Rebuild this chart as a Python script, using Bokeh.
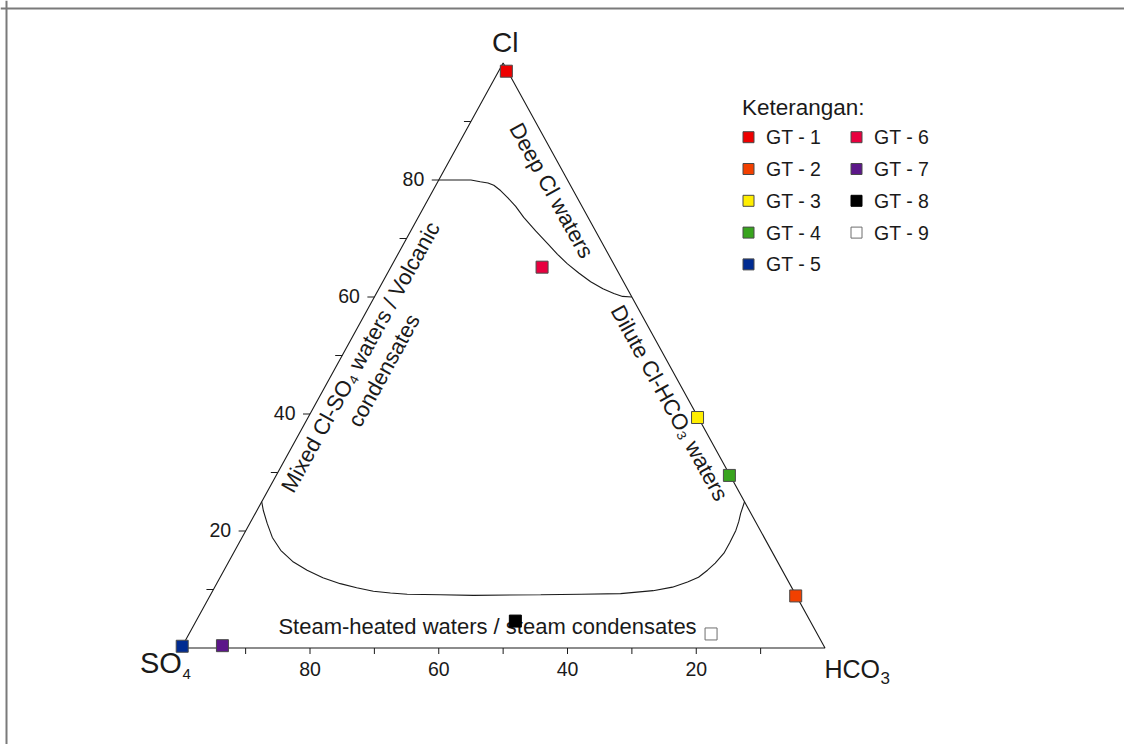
import math
from bokeh.plotting import figure
from bokeh.models import ColumnDataSource, Range1d, Span
from bokeh.core.properties import value
from bokeh.embed import file_html
from bokeh.resources import INLINE

# ---------------- data ----------------
samples = ["GT - 1", "GT - 2", "GT - 3", "GT - 4", "GT - 5",
           "GT - 6", "GT - 7", "GT - 8", "GT - 9"]
cl = [98.6, 8.9, 39.4, 29.5, 0.3, 65.1, 0.4, 4.6, 2.4]
hco3 = [1.2, 91.0, 60.5, 70.4, 0.0, 23.5, 6.2, 49.6, 81.1]
so4 = [0.2, 0.1, 0.1, 0.1, 99.7, 11.4, 93.4, 45.8, 16.5]
colors = ["#ee0000", "#f24000", "#ffee00", "#38a41e", "#002b91",
          "#e8003f", "#5c1789", "#000000", "#ffffff"]
edge_colors = ["#4a4a4a"] * 7 + ["#000000", "#6e6e6e"]

# field boundaries (Cl %, HCO3 %; SO4 = rest)
top_cl = [80.0, 80.0, 80.0, 79.7, 79.5, 79.1, 78.2, 77.0, 75.5, 73.6,
          71.3, 69.1, 67.3, 65.7, 64.1, 62.6, 61.4, 60.6, 60.1, 60.0]
top_hco3 = [0.0, 2.6, 5.0, 6.6, 7.9, 9.0, 10.5, 12.2, 14.2, 16.4,
            19.4, 22.4, 24.8, 27.1, 29.7, 32.3, 34.8, 36.9, 38.5, 40.0]
bot_cl = [25.0, 23.5, 21.3, 18.9, 16.7, 14.8, 13.3, 12.0, 11.0, 10.3,
          9.7, 9.4, 9.2, 9.1, 9.0, 9.1, 9.2, 9.3, 9.8, 10.4,
          11.3, 12.1, 13.3, 14.5, 16.2, 18.0, 20.1, 21.6, 23.0, 25.0]
bot_hco3 = [0.0, 1.0, 2.7, 4.7, 7.1, 9.9, 12.9, 16.0, 19.2, 22.1,
            25.0, 27.8, 30.5, 35.7, 40.9, 51.3, 57.5, 63.6, 68.4, 71.1,
            73.0, 74.3, 75.1, 75.7, 76.2, 76.2, 76.1, 75.8, 75.4, 75.0]

tick_values = [10, 20, 30, 40, 50, 60, 70, 80, 90]
label_values = [80, 60, 40, 20]
tick_labels = ["80", "60", "40", "20"]

legend_title = "Keterangan:"

# ---------------- layout ----------------
W, H = 1124, 744
X0, SX = 180.75, 6.4375
Y0, SY = 647.5, 5.85
FONT = "Liberation Sans"
INK = "#1a1a1a"


def tern(c, h, s=None):
    if s is None:
        s = 100.0 - c - h
    t = c + h + s
    return 100.0 * (h + c / 2.0) / t, 100.0 * c / t


def px(v):
    return (v - X0) / SX


def py(v):
    return (Y0 - v) / SY


p = figure(width=W, height=H,
           x_range=Range1d(px(0), px(W)), y_range=Range1d(py(H), py(0)),
           output_backend="svg", toolbar_location=None,
           x_axis_type=None, y_axis_type=None, min_border=0,
           outline_line_color=None, background_fill_color="white",
           border_fill_color="white")

# frame border
p.add_layout(Span(location=py(8), dimension="width", line_color="#7a7a7a", line_width=2))
p.add_layout(Span(location=px(6), dimension="height", line_color="#7a7a7a", line_width=2))

# triangle
verts = [tern(0, 0, 100), tern(0, 100, 0), tern(100, 0, 0), tern(0, 0, 100)]
p.line([v[0] for v in verts], [v[1] for v in verts], line_color=INK, line_width=1.1)

# boundaries
tp = [tern(c, h) for c, h in zip(top_cl, top_hco3)]
p.line([q[0] for q in tp], [q[1] for q in tp], line_color=INK, line_width=1.1)
bp = [tern(c, h) for c, h in zip(bot_cl, bot_hco3)]
p.line([q[0] for q in bp], [q[1] for q in bp], line_color=INK, line_width=1.1)

# ticks
bt = [tern(0, 100 - v, v) for v in tick_values]
p.ray(x=[q[0] for q in bt], y=[q[1] for q in bt], length=6, length_units="screen",
      angle=-math.pi / 2, line_color=INK, line_width=1)
lt = [tern(v, 0, 100 - v) for v in tick_values]
p.ray(x=[q[0] for q in lt], y=[q[1] for q in lt], length=7, length_units="screen",
      angle=math.pi, line_color=INK, line_width=1)

MID = dict(text_baseline="middle", text_font=value(FONT), text_color=INK)

# tick labels
bl = [tern(0, 100 - v, v) for v in label_values]
p.text(x=[q[0] for q in bl], y=[q[1] - 20.8 / SY for q in bl], text=tick_labels,
       text_align="center", text_font_size="19.5px", **MID)
ll = [tern(v, 0, 100 - v) for v in label_values]
p.text(x=[q[0] - 14.5 / SX for q in ll], y=[q[1] + 1 / SY for q in ll], text=tick_labels,
       text_align="right", text_font_size="19.5px", **MID)

# vertex labels (with subscripts)
p.text(x=[px(504.8)], y=[py(41.7)], text=["Cl"], text_align="center",
       text_font_size="28px", **MID)
p.text(x=[px(139.5)], y=[py(662)], text=["SO"], text_align="left",
       text_font_size="29px", **MID)
p.text(x=[px(182)], y=[py(673)], text=["4"], text_align="left",
       text_font_size="15px", **MID)
p.text(x=[px(824)], y=[py(668)], text=["HCO"], text_align="left",
       text_font_size="25px", **MID)
p.text(x=[px(880)], y=[py(677.5)], text=["3"], text_align="left",
       text_font_size="17px", **MID)

# field labels
ang = math.atan2(100 * SY, 50 * SX)
p.text(x=[px(551), px(669)], y=[py(190), py(402.5)],
       text=["Deep Cl waters", "Dilute Cl-HCO\u2083 waters"], angle=-ang,
       text_align="center", text_font_size="22px", **MID)
p.text(x=[px(360), px(383.3)], y=[py(356.5), py(370)],
       text=["Mixed Cl-SO\u2084 waters / Volcanic", "condensates"], angle=ang,
       text_align="center", text_font_size="22px", **MID)
p.text(x=[px(487)], y=[py(625.5)], text=["Steam-heated waters / steam condensates"],
       text_align="center", text_font_size="22px", **MID)

# samples
pts = [tern(c, h, s) for c, h, s in zip(cl, hco3, so4)]
src = ColumnDataSource(dict(x=[q[0] for q in pts], y=[q[1] for q in pts],
                            name=samples, fill=colors, edge=edge_colors))
p.scatter("x", "y", source=src, marker="square", size=12, fill_color="fill",
          line_color="edge", line_width=1)

# legend (two columns)
p.text(x=[px(741.5)], y=[py(106.5)], text=[legend_title], text_align="left",
       text_font_size="22.5px", **MID)
lx, ly, tx, ty = [], [], [], []
for i in range(len(samples)):
    col, row = divmod(i, 5)
    cx = 748 + 108 * col
    cy = 136.7 + 31.8 * row
    lx.append(px(cx)); ly.append(py(cy))
    tx.append(px(cx + 17.5)); ty.append(py(cy))
lsrc = ColumnDataSource(dict(x=lx, y=ly, tx=tx, ty=ty, name=samples, fill=colors, edge=edge_colors))
p.scatter("x", "y", source=lsrc, marker="square", size=11, fill_color="fill",
          line_color="edge", line_width=1)
p.text("tx", "ty", text="name", source=lsrc, text_align="left",
       text_font_size="19.5px", **MID)

open("out.html", "w").write(file_html(p, INLINE, "Ternary Cl-SO4-HCO3"))
